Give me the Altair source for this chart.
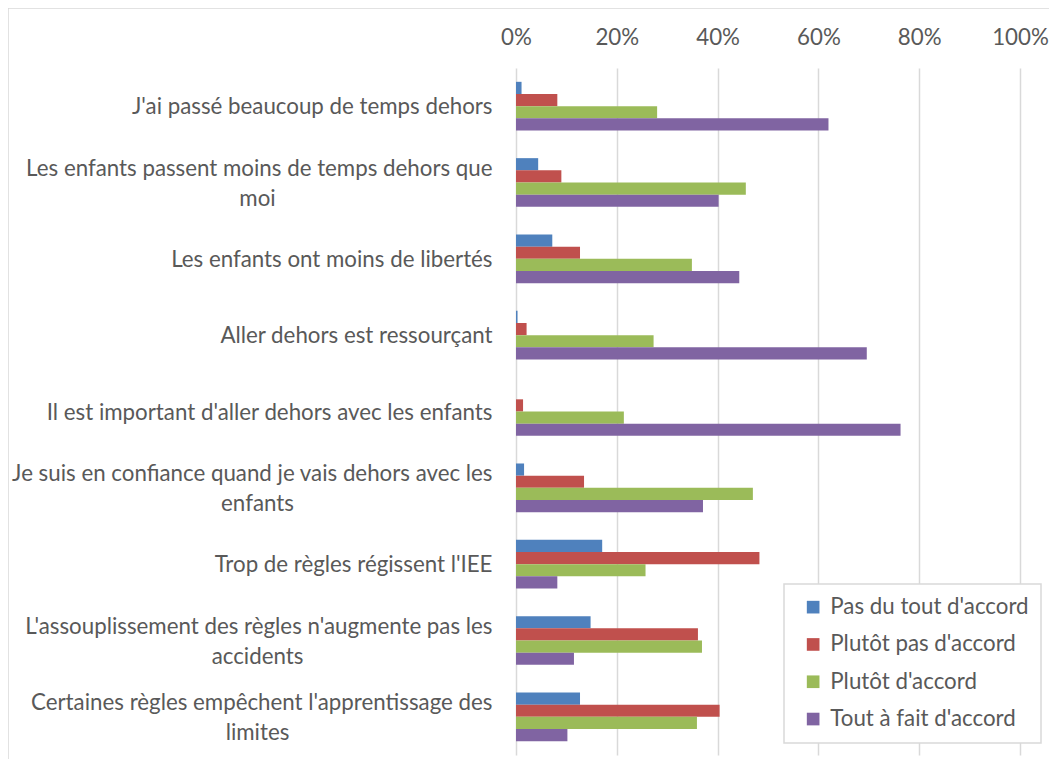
import altair as alt
import pandas as pd

categories = [
    "J'ai passé beaucoup de temps dehors",
    "Les enfants passent moins de temps dehors que\nmoi",
    "Les enfants ont moins de libertés",
    "Aller dehors est ressourçant",
    "Il est important d'aller dehors avec les enfants",
    "Je suis en confiance quand je vais dehors avec les\nenfants",
    "Trop de règles régissent l'IEE",
    "L'assouplissement des règles n'augmente pas les\naccidents",
    "Certaines règles empêchent l'apprentissage des\nlimites",
]

series = [
    "Pas du tout d'accord",
    "Plutôt pas d'accord",
    "Plutôt d'accord",
    "Tout à fait d'accord",
]

colors = ["#4F81BD", "#C0504D", "#9BBB59", "#8064A2"]

pas_du_tout = [1.1, 4.4, 7.2, 0.3, 0.0, 1.6, 17.1, 14.8, 12.7]
plutot_pas = [8.2, 9.0, 12.7, 2.1, 1.4, 13.5, 48.3, 36.1, 40.4]
plutot = [28.0, 45.6, 34.9, 27.3, 21.4, 47.0, 25.7, 36.9, 35.9]
tout_a_fait = [62.0, 40.2, 44.3, 69.6, 76.3, 37.1, 8.2, 11.5, 10.2]

x_ticks = [0, 0.2, 0.4, 0.6, 0.8, 1.0]

rows = []
for s, vals in zip(series, [pas_du_tout, plutot_pas, plutot, tout_a_fait]):
    for c, v in zip(categories, vals):
        rows.append({"cat": c, "series": s, "value": v / 100})
df = pd.DataFrame(rows)

FONT = "Lato"
TXT = "#595959"
FS = 22.3
MULTI = "indexof(datum.label, '\\n') >= 0"

y_scale = alt.Scale(paddingInner=0.362, paddingOuter=0.181)

bars = alt.Chart(df).mark_bar().encode(
    y=alt.Y(
        "cat:N",
        sort=categories,
        scale=y_scale,
        axis=alt.Axis(
            title=None,
            orient="left",
            labelExpr="split(datum.label, '\\n')[0]",
            labelAlign="right",
            labelPadding=24,
            labelOffset={"condition": {"test": MULTI, "value": -14}, "value": 1},
            labelFont=FONT,
            labelFontSize=FS,
            labelColor=TXT,
            labelLimit=600,
            ticks=False,
            domain=False,
            grid=False,
        ),
    ),
    x=alt.X(
        "value:Q",
        scale=alt.Scale(domain=[0, 1], nice=False),
        axis=alt.Axis(
            orient="top",
            values=x_ticks,
            format=".0%",
            title=None,
            ticks=False,
            domain=False,
            grid=True,
            gridColor="#D9D9D9",
            gridWidth=1.5,
            labelFlush=False,
            labelPadding=19,
            labelFont=FONT,
            labelFontSize=FS,
            labelColor=TXT,
        ),
    ),
    yOffset=alt.YOffset("series:N", sort=series),
    color=alt.Color(
        "series:N",
        sort=series,
        scale=alt.Scale(domain=series, range=colors),
        legend=alt.Legend(
            title=None,
            orient="none",
            legendX=268,
            legendY=516,
            symbolType="square",
            symbolSize=160,
            symbolStrokeWidth=0,
            symbolOffset=6,
            labelFont=FONT,
            labelFontSize=FS,
            labelColor=TXT,
            labelOffset=6,
            labelLimit=400,
            rowPadding=14.3,
            padding=12,
            strokeColor="#D9D9D9",
            fillColor="white",
        ),
    ),
)

# second y axis carrying the wrapped second line of long labels (centered)
second_lines = alt.Chart(df).mark_point(opacity=0).encode(
    y=alt.Y(
        "cat:N",
        sort=categories,
        scale=y_scale,
        axis=alt.Axis(
            title=None,
            orient="left",
            labelExpr="length(split(datum.label, '\\n')) > 1 ? split(datum.label, '\\n')[1] : ''",
            labelAlign="center",
            labelPadding=259,
            labelOffset=16,
            labelFont=FONT,
            labelFontSize=FS,
            labelColor=TXT,
            labelLimit=600,
            ticks=False,
            domain=False,
            grid=False,
        ),
    ),
)

frame = alt.Chart(pd.DataFrame({"k": [0]})).mark_rect(
    fillOpacity=0, stroke="#D9D9D9", strokeWidth=1.5
).encode(
    x=alt.value(-508), x2=alt.value(1200), y=alt.value(-60), y2=alt.value(1200)
)

chart = alt.layer(frame, bars, second_lines).resolve_axis(y="independent").properties(
    width=504,
    height=687,
    autosize=alt.AutoSizeParams(type="none"),
    padding={"left": 508, "top": 60, "right": 29, "bottom": 4},
).configure_view(strokeWidth=0).configure_legend(strokeWidth=1.5)

chart.save("out.html", embed_options={"renderer": "svg", "actions": False})
